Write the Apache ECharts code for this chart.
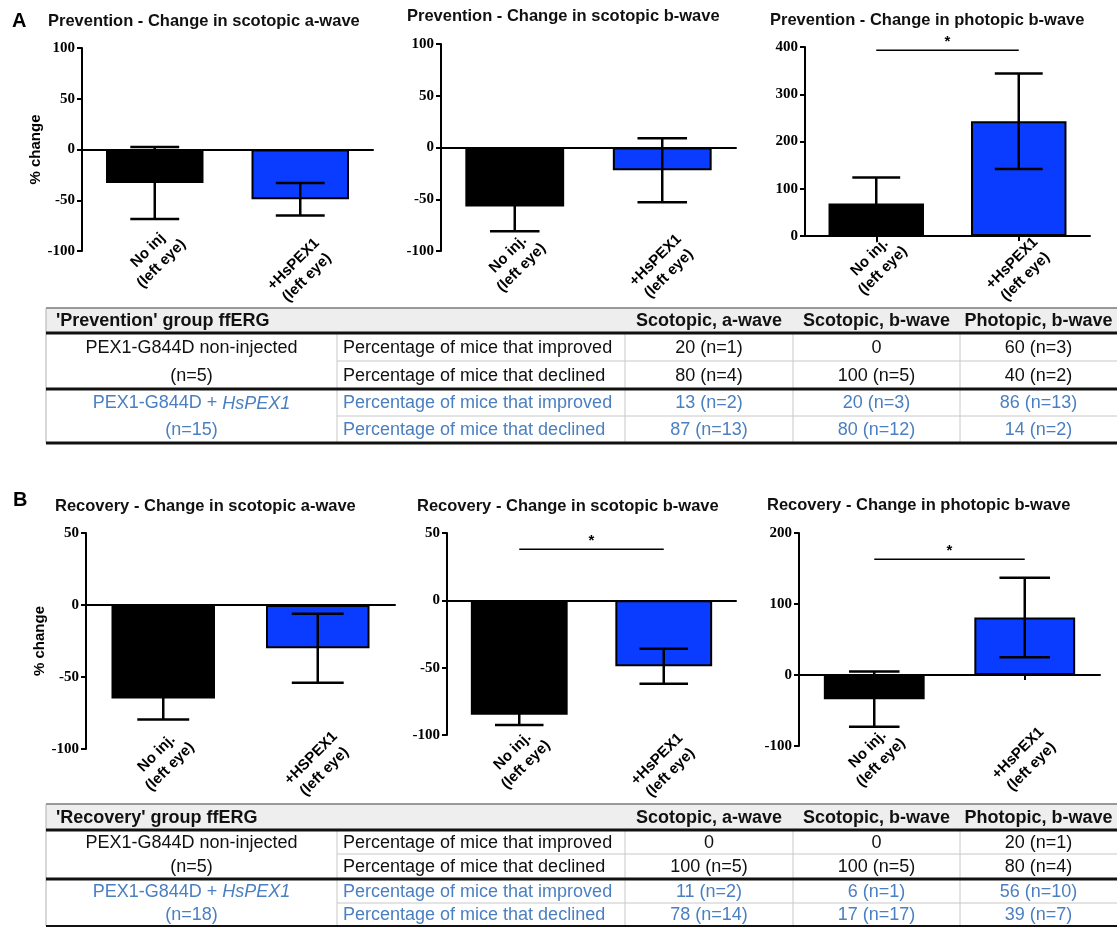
<!DOCTYPE html>
<html>
<head>
<meta charset="utf-8">
<title>ffERG change after HsPEX1 gene augmentation</title>
<script src="https://cdn.jsdelivr.net/npm/echarts@6/dist/echarts.min.js"></script>
<style>
  html, body { margin: 0; padding: 0; background: #ffffff; }
  #chart { width: 1117px; height: 927px; }
</style>
</head>
<body>
<div id="chart"></div>
<script>
// ---------------- data ----------------
const panelLetters = ['A', 'B'];
const panelTitles = [
  'Prevention - Change in scotopic a-wave',
  'Prevention - Change in scotopic b-wave',
  'Prevention - Change in photopic b-wave',
  'Recovery - Change in scotopic a-wave',
  'Recovery - Change in scotopic b-wave',
  'Recovery - Change in photopic b-wave'
];

const categoriesPrevScotA = ['No inj\n(left eye)', '+HsPEX1\n(left eye)'];
const categoriesDefault = ['No inj.\n(left eye)', '+HsPEX1\n(left eye)'];
const categoriesRecScotA = ['No inj.\n(left eye)', '+HSPEX1\n(left eye)'];

// mean % change and SEM, [non-injected, HsPEX1]
const prevScotAMean = [-33, -49];
const prevScotASem = [35.5, 16];
const prevScotBMean = [-57, -22];
const prevScotBSem = [24, 31];
const prevPhotBMean = [69, 243];
const prevPhotBSem = [55, 101];
const recScotAMean = [-65, -30];
const recScotASem = [14.5, 24];
const recScotBMean = [-85, -49];
const recScotBSem = [7.5, 13];
const recPhotBMean = [-34, 81];
const recPhotBSem = [39, 56];

// significance bar height (value units); null = none
const prevScotASig = null;
const prevScotBSig = null;
const prevPhotBSig = 393;
const recScotASig = null;
const recScotBSig = 38;
const recPhotBSig = 163;

// y-axis ticks: [min, max, interval]
const yTicksPrevScot = [-100, 100, 50];
const yTicksPrevPhot = [0, 400, 100];
const yTicksRecScot = [-100, 50, 50];
const yTicksRecPhot = [-100, 200, 100];

const yAxisName = '% change';

// summary tables
const tableColumns = ['Scotopic, a-wave', 'Scotopic, b-wave', 'Photopic, b-wave'];
const tableMeasures = ['Percentage of mice that improved', 'Percentage of mice that declined'];
const preventionTableTitle = "'Prevention' group ffERG";
const recoveryTableTitle = "'Recovery' group ffERG";
const groupNonInjected = ['PEX1-G844D non-injected', '(n=5)'];
const groupTreatedPrefix = 'PEX1-G844D + ';
const groupTreatedGene = 'HsPEX1';
const preventionTreatedN = '(n=15)';
const recoveryTreatedN = '(n=18)';
const preventionNonInjected = [['20 (n=1)', '0', '60 (n=3)'], ['80 (n=4)', '100 (n=5)', '40 (n=2)']];
const preventionTreated = [['13 (n=2)', '20 (n=3)', '86 (n=13)'], ['87 (n=13)', '80 (n=12)', '14 (n=2)']];
const recoveryNonInjected = [['0', '0', '20 (n=1)'], ['100 (n=5)', '100 (n=5)', '80 (n=4)']];
const recoveryTreated = [['11 (n=2)', '6 (n=1)', '56 (n=10)'], ['78 (n=14)', '17 (n=17)', '39 (n=7)']];

// ---------------- styling / layout ----------------
const SANS = '"Liberation Sans", Arial, sans-serif';
const SERIF = '"Liberation Serif", "Times New Roman", serif';
const BAR_COLORS = ['#000000', '#0a3cff'];
const TABLE_BLUE = '#4a7fc1';

// labelMargins: distance from the plot bottom to the centre of each rotated label block
const panels = [
  { title: panelTitles[0], cats: categoriesPrevScotA, mean: prevScotAMean, sem: prevScotASem, ticks: yTicksPrevScot, sig: prevScotASig, yName: yAxisName,
    grid: { left: 82, top: 48, width: 291, height: 203 }, labelMargins: [6, 20], titlePos: { left: 48, top: 13 } },
  { title: panelTitles[1], cats: categoriesDefault, mean: prevScotBMean, sem: prevScotBSem, ticks: yTicksPrevScot, sig: prevScotBSig, yName: '',
    grid: { left: 441, top: 44, width: 295, height: 207 }, labelMargins: [10, 16], titlePos: { left: 407, top: 8 } },
  { title: panelTitles[2], cats: categoriesDefault, mean: prevPhotBMean, sem: prevPhotBSem, ticks: yTicksPrevPhot, sig: prevPhotBSig, yName: '',
    grid: { left: 805, top: 47, width: 285, height: 189 }, labelMargins: [28, 34], titlePos: { left: 770, top: 12 } },
  { title: panelTitles[3], cats: categoriesRecScotA, mean: recScotAMean, sem: recScotASem, ticks: yTicksRecScot, sig: recScotASig, yName: yAxisName,
    grid: { left: 86, top: 533, width: 309, height: 216 }, labelMargins: [11, 16], titlePos: { left: 55, top: 498 } },
  { title: panelTitles[4], cats: categoriesDefault, mean: recScotBMean, sem: recScotBSem, ticks: yTicksRecScot, sig: recScotBSig, yName: '',
    grid: { left: 447, top: 533, width: 289, height: 202 }, labelMargins: [23, 31], titlePos: { left: 417, top: 498 } },
  { title: panelTitles[5], cats: categoriesDefault, mean: recPhotBMean, sem: recPhotBSem, ticks: yTicksRecPhot, sig: recPhotBSig, yName: '',
    grid: { left: 799, top: 533, width: 301, height: 213 }, labelMargins: [10, 14], titlePos: { left: 767, top: 497 } }
];

const option = {
  animation: false,
  backgroundColor: '#ffffff',
  textStyle: { fontFamily: SANS },
  title: [
    { text: panelLetters[0], left: 12, top: 11, padding: 0, textStyle: { fontFamily: SANS, fontWeight: 'bold', fontSize: 20, color: '#000' } },
    { text: panelLetters[1], left: 13, top: 490, padding: 0, textStyle: { fontFamily: SANS, fontWeight: 'bold', fontSize: 20, color: '#000' } }
  ],
  grid: [], xAxis: [], yAxis: [], series: [], graphic: []
};

panels.forEach((p, i) => {
  option.title.push({
    text: p.title, left: p.titlePos.left, top: p.titlePos.top, padding: 0,
    textStyle: { fontFamily: SANS, fontWeight: 'bold', fontSize: 16.5, color: '#111' }
  });
  option.grid.push(Object.assign({ containLabel: false }, p.grid));

  // category labels below the plot, one axis per category so each can sit at its own depth
  p.cats.forEach((c, k) => {
    option.xAxis.push({
      type: 'category', gridIndex: i, data: p.cats, position: 'bottom',
      axisLine: { show: false, onZero: false }, axisTick: { show: false },
      axisLabel: {
        interval: 0, rotate: 45, margin: p.labelMargins[k], align: 'center', verticalAlign: 'middle',
        fontFamily: SANS, fontWeight: 'bold', fontSize: 15, lineHeight: 19, color: '#000',
        formatter: (value, idx) => (idx === k ? value : '')
      }
    });
  });
  // baseline at zero with ticks under each bar
  const lineAxis = option.xAxis.length;
  option.xAxis.push({
    type: 'category', gridIndex: i, data: p.cats, position: 'bottom',
    axisLine: { show: true, onZero: true, lineStyle: { color: '#000', width: 2 } },
    axisTick: { show: true, alignWithLabel: true, length: 5, lineStyle: { color: '#000', width: 2 } },
    axisLabel: { show: false }
  });

  option.yAxis.push({
    type: 'value', gridIndex: i, min: p.ticks[0], max: p.ticks[1], interval: p.ticks[2],
    splitLine: { show: false },
    axisLine: { show: true, lineStyle: { color: '#000', width: 2 } },
    axisTick: { show: true, length: 5, lineStyle: { color: '#000', width: 2 } },
    axisLabel: { margin: 7, fontFamily: SERIF, fontWeight: 'bold', fontSize: 15, color: '#000' },
    name: p.yName, nameLocation: 'middle', nameGap: 38,
    nameTextStyle: { fontFamily: SANS, fontWeight: 'bold', fontSize: 15, color: '#000' }
  });

  option.series.push({
    type: 'bar', xAxisIndex: lineAxis, yAxisIndex: i, barWidth: '67%', z: 3,
    itemStyle: { borderColor: '#000', borderWidth: 2 },
    data: p.mean.map((v, k) => ({ value: v, itemStyle: { color: BAR_COLORS[k] } }))
  });

  // SEM error bars
  option.series.push({
    type: 'custom', xAxisIndex: lineAxis, yAxisIndex: i, z: 4,
    data: p.mean.map((v, k) => [k, v, p.sem[k]]),
    renderItem: function (params, api) {
      const x = api.value(0), m = api.value(1), e = api.value(2);
      const hi = api.coord([x, m + e]);
      const lo = api.coord([x, m - e]);
      const half = api.size([1, 0])[0] * 0.168;
      const st = { stroke: '#000', lineWidth: 2.5 };
      return {
        type: 'group', children: [
          { type: 'line', shape: { x1: hi[0], y1: hi[1], x2: lo[0], y2: lo[1] }, style: st },
          { type: 'line', shape: { x1: hi[0] - half, y1: hi[1], x2: hi[0] + half, y2: hi[1] }, style: st },
          { type: 'line', shape: { x1: lo[0] - half, y1: lo[1], x2: lo[0] + half, y2: lo[1] }, style: st }
        ]
      };
    }
  });

  // significance bracket
  if (p.sig !== null) {
    option.series.push({
      type: 'custom', xAxisIndex: lineAxis, yAxisIndex: i, z: 4,
      data: [[0, 1, p.sig]],
      renderItem: function (params, api) {
        const a = api.coord([api.value(0), api.value(2)]);
        const b = api.coord([api.value(1), api.value(2)]);
        return {
          type: 'group', children: [
            { type: 'line', shape: { x1: a[0], y1: a[1], x2: b[0], y2: b[1] }, style: { stroke: '#000', lineWidth: 1.5 } },
            { type: 'text', x: (a[0] + b[0]) / 2, y: a[1] - 1,
              style: { text: '*', fill: '#000', font: 'bold 15px ' + SANS, align: 'center', verticalAlign: 'bottom' } }
          ]
        };
      }
    });
  }
});

// ---------------- tables ----------------
const colX = [46, 337, 625, 793, 960, 1117];

function addTable(layout, title, nonInjected, treated, treatedN) {
  const g = option.graphic;
  const top = layout.top, hb = layout.rows[0], r = layout.rows;
  const bottom = r[4];
  const textFont = '18px ' + SANS;
  g.push({ type: 'rect', silent: true, shape: { x: colX[0], y: top, width: colX[5] - colX[0], height: hb - top }, style: { fill: '#eeeeee' } });
  g.push({ type: 'line', silent: true, shape: { x1: colX[0], y1: top, x2: colX[5], y2: top }, style: { stroke: '#7a7a7a', lineWidth: 1.5 } });
  g.push({ type: 'line', silent: true, shape: { x1: colX[0], y1: top, x2: colX[0], y2: bottom }, style: { stroke: '#b0b0b0', lineWidth: 1 } });
  [1, 2, 3, 4].forEach(c => {
    g.push({ type: 'line', silent: true, shape: { x1: colX[c], y1: hb, x2: colX[c], y2: bottom }, style: { stroke: '#c8c8c8', lineWidth: 1 } });
  });
  [1, 3].forEach(k => {
    g.push({ type: 'line', silent: true, shape: { x1: colX[1], y1: r[k], x2: colX[5], y2: r[k] }, style: { stroke: '#c8c8c8', lineWidth: 1 } });
  });
  [0, 2].forEach(k => {
    g.push({ type: 'line', silent: true, shape: { x1: colX[0], y1: r[k], x2: colX[5], y2: r[k] }, style: { stroke: '#111', lineWidth: 3 } });
  });
  g.push({ type: 'line', silent: true, shape: { x1: colX[0], y1: bottom, x2: colX[5], y2: bottom }, style: { stroke: '#111', lineWidth: layout.bottomWidth } });

  const hy = (top + hb) / 2 + 1;
  g.push({ type: 'text', silent: true, x: 56, y: hy, style: { text: title, font: 'bold 18px ' + SANS, fill: '#111', align: 'left', verticalAlign: 'middle' } });
  tableColumns.forEach((c, k) => {
    g.push({ type: 'text', silent: true, x: (colX[k + 2] + colX[k + 3]) / 2, y: hy, style: { text: c, font: 'bold 18px ' + SANS, fill: '#111', align: 'center', verticalAlign: 'middle' } });
  });

  const gx = (colX[0] + colX[1]) / 2;
  const rowMid = k => (r[k] + r[k + 1]) / 2 + 1;
  // non-injected group
  g.push({ type: 'text', silent: true, x: gx, y: rowMid(0), style: { text: nonInjected.label[0], font: textFont, fill: '#111', align: 'center', verticalAlign: 'middle' } });
  g.push({ type: 'text', silent: true, x: gx, y: rowMid(1), style: { text: nonInjected.label[1], font: textFont, fill: '#111', align: 'center', verticalAlign: 'middle' } });
  // HsPEX1-treated group
  g.push({ type: 'text', silent: true, x: gx, y: rowMid(2), style: {
    text: groupTreatedPrefix + '{i|' + groupTreatedGene + '}', font: textFont, fill: TABLE_BLUE, align: 'center', verticalAlign: 'middle',
    rich: { i: { fontStyle: 'italic', fontSize: 18, fontFamily: SANS, fill: TABLE_BLUE } } } });
  g.push({ type: 'text', silent: true, x: gx, y: rowMid(3), style: { text: treatedN, font: textFont, fill: TABLE_BLUE, align: 'center', verticalAlign: 'middle' } });

  const groups = [[nonInjected.cells, '#111'], [treated, TABLE_BLUE]];
  groups.forEach((grp, gi) => {
    grp[0].forEach((row, ri) => {
      const y = rowMid(gi * 2 + ri);
      g.push({ type: 'text', silent: true, x: colX[1] + 6, y: y, style: { text: tableMeasures[ri], font: textFont, fill: grp[1], align: 'left', verticalAlign: 'middle' } });
      row.forEach((cell, ci) => {
        g.push({ type: 'text', silent: true, x: (colX[ci + 2] + colX[ci + 3]) / 2, y: y, style: { text: cell, font: textFont, fill: grp[1], align: 'center', verticalAlign: 'middle' } });
      });
    });
  });
}

addTable({ top: 308, rows: [333, 361, 389, 416, 443], bottomWidth: 3 }, preventionTableTitle,
  { label: groupNonInjected, cells: preventionNonInjected }, preventionTreated, preventionTreatedN);
addTable({ top: 804, rows: [830, 854, 879, 903, 926], bottomWidth: 2 }, recoveryTableTitle,
  { label: groupNonInjected, cells: recoveryNonInjected }, recoveryTreated, recoveryTreatedN);

const chart = echarts.init(document.getElementById('chart'), null, { renderer: 'canvas' });
chart.setOption(option);
</script>
</body>
</html>
